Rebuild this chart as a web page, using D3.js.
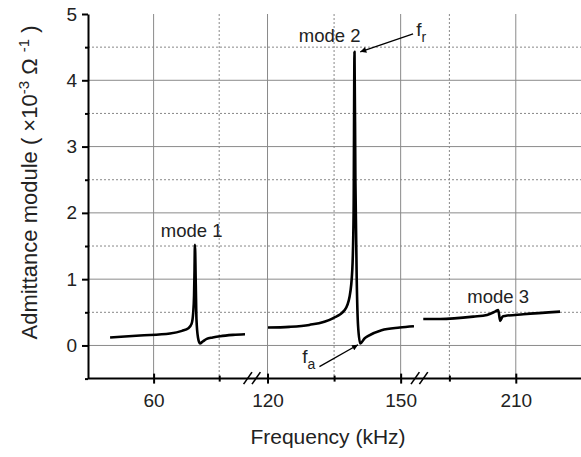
<!DOCTYPE html>
<html>
  <head>
    <meta charset="utf-8" />
    <title>Admittance module</title>
    <script src="https://d3js.org/d3.v7.min.js"></script>
    <style>
      body {
        margin: 0;
        background: #fff;
      }
      svg {
        font-family: Arial, "Liberation Sans", sans-serif;
      }
      .grid-major {
        stroke: #8a8a8a;
        stroke-width: 1;
      }
      .grid-minor {
        stroke: #888;
        stroke-width: 1;
        stroke-dasharray: 2, 2;
      }
      .axis path, .axis line {
        stroke: #000;
        stroke-width: 2;
      }
      .axis text {
        font-size: 19px;
        fill: #222;
      }
      .curve {
        fill: none;
        stroke: #000;
        stroke-width: 2.6;
        stroke-linejoin: round;
      }
    </style>
  </head>
  <body>

    <svg id="chart"></svg>

    <script>

      // mode 1 (kHz, x10^-3 S)
      var mode1Freq = [40.1, 53.8, 67.5, 73.0, 75.9, 77.4, 78.1, 78.5, 78.7, 78.9, 79.3, 79.6, 80.3, 81.2, 82.5, 84.3, 87.0, 90.4, 96.3, 101.8];
      var mode1Val  = [0.12, 0.15, 0.18, 0.22, 0.26, 0.33, 0.49, 0.75, 1.10, 1.52, 0.90, 0.40, 0.12, 0.03, 0.06, 0.10, 0.12, 0.14, 0.16, 0.17];

      // mode 2
      var mode2Freq = [120.1, 124.9, 129.4, 134.7, 137.4, 138.5, 139.1, 139.4, 139.6, 139.8, 140.1, 140.4, 140.9, 141.9, 142.6, 145.7, 149.8, 153.0];
      var mode2Val  = [0.27, 0.28, 0.31, 0.41, 0.535, 0.74, 1.14, 2.0, 4.43, 2.5, 1.0, 0.3, 0.03, 0.11, 0.14, 0.23, 0.27, 0.29];

      // mode 3
      var mode3Freq = [168.2, 175.8, 190.8, 197.0, 200.6, 202.1, 202.9, 204.0, 205.1, 213.4, 230.0];
      var mode3Val  = [0.40, 0.40, 0.435, 0.46, 0.51, 0.535, 0.37, 0.435, 0.445, 0.47, 0.51];

      var xMajorTicks = [60, 120, 150, 210];
      var xMinorTicks = [90, 135, 180];
      var yMajorTicks = [0, 1, 2, 3, 4, 5];
      var yMinorTicks = [-0.5, 0.5, 1.5, 2.5, 3.5, 4.5];
      var xBreaks = [105, 154];

      var labelText = ["mode 1", "mode 2", "mode 3"];
      var labelFreq = [77.4, 134.0, 202.0];
      var labelVal  = [1.63, 4.58, 0.64];

      var width = 581;
      var height = 457;

      var svg = d3.select("#chart")
        .attr("width", width)
        .attr("height", height);

      // broken x axis: three segments glued together
      var x = d3.scaleLinear()
        .domain([30, 105, 116.5, 154, 166, 240])
        .range([88, 252, 252, 418.4, 418.4, 582.2]);

      var y = d3.scaleLinear()
        .domain([-0.5, 5])
        .range([378.6, 14]);

      var xLeft = x.range()[0];
      var xRight = width;

      // grid
      var grid = svg.append("g");

      grid.selectAll(".hmin")
        .data(yMinorTicks.filter(function(d) { return d > -0.5; }))
        .enter().append("line")
        .attr("class", "grid-minor")
        .attr("x1", xLeft).attr("x2", xRight)
        .attr("y1", function(d) { return y(d); })
        .attr("y2", function(d) { return y(d); });

      grid.selectAll(".hmaj")
        .data(yMajorTicks.filter(function(d) { return d < 5; }))
        .enter().append("line")
        .attr("class", "grid-major")
        .attr("x1", xLeft).attr("x2", xRight)
        .attr("y1", function(d) { return y(d); })
        .attr("y2", function(d) { return y(d); });

      grid.selectAll(".vmin")
        .data(xMinorTicks)
        .enter().append("line")
        .attr("class", "grid-minor")
        .attr("x1", function(d) { return x(d); })
        .attr("x2", function(d) { return x(d); })
        .attr("y1", y(5)).attr("y2", y(-0.5));

      grid.selectAll(".vmaj")
        .data(xMajorTicks)
        .enter().append("line")
        .attr("class", "grid-major")
        .attr("x1", function(d) { return x(d); })
        .attr("x2", function(d) { return x(d); })
        .attr("y1", y(5)).attr("y2", y(-0.5));

      // curves
      var line = d3.line()
        .x(function(d) { return x(d[0]); })
        .y(function(d) { return y(d[1]); })
        .curve(d3.curveMonotoneX);

      [[mode1Freq, mode1Val], [mode2Freq, mode2Val], [mode3Freq, mode3Val]].forEach(function(m) {
        svg.append("path")
          .attr("class", "curve")
          .attr("d", line(d3.zip(m[0], m[1])));
      });

      // axes
      var xAxis = svg.append("g")
        .attr("class", "axis")
        .attr("transform", "translate(0," + y(-0.5) + ")")
        .call(d3.axisBottom(x).tickValues(xMajorTicks).tickSize(5).tickSizeOuter(0).tickPadding(10));
      xAxis.selectAll(".tick line").attr("y1", -5);
      xAxis.select(".domain").attr("d", "M" + xLeft + ",0H" + xRight);

      svg.append("g")
        .attr("class", "axis")
        .attr("transform", "translate(0," + y(-0.5) + ")")
        .call(d3.axisBottom(x).tickValues(xMinorTicks).tickSize(3).tickSizeOuter(0).tickFormat(""))
        .call(function(g) { g.select(".domain").remove(); g.selectAll(".tick line").attr("y1", -3).attr("stroke-width", 1.5); });

      svg.append("g")
        .attr("class", "axis")
        .attr("transform", "translate(" + xLeft + ",0)")
        .call(d3.axisLeft(y).tickValues(yMajorTicks).tickFormat(d3.format("d")).tickSize(6).tickSizeOuter(0).tickPadding(5));

      svg.append("g")
        .attr("class", "axis")
        .attr("transform", "translate(" + xLeft + ",0)")
        .call(d3.axisLeft(y).tickValues(yMinorTicks).tickSize(3).tickSizeOuter(0).tickFormat(""))
        .call(function(g) { g.select(".domain").remove(); g.selectAll(".tick line").attr("stroke-width", 1.5); });

      // break marks
      var breaks = svg.append("g");
      xBreaks.forEach(function(b) {
        var cx = x(b) + (b > 150 ? 1 : 0);
        [-4.2, 4.2].forEach(function(dx) {
          breaks.append("line")
            .attr("x1", cx + dx - 4.2).attr("y1", y(-0.5) + 5.5)
            .attr("x2", cx + dx + 4.2).attr("y2", y(-0.5) - 6.5)
            .attr("stroke", "#000")
            .attr("stroke-width", 1.6);
        });
      });

      // mode labels
      svg.selectAll(".mode-label")
        .data(labelText)
        .enter().append("text")
        .attr("class", "mode-label")
        .attr("x", function(d, i) { return x(labelFreq[i]); })
        .attr("y", function(d, i) { return y(labelVal[i]); })
        .attr("text-anchor", "middle")
        .attr("font-size", 18.5)
        .attr("fill", "#222")
        .text(function(d) { return d; });

      // arrows to fr and fa
      svg.append("defs").append("marker")
        .attr("id", "head")
        .attr("viewBox", "0 0 10 10")
        .attr("refX", 10).attr("refY", 5)
        .attr("markerWidth", 9).attr("markerHeight", 6)
        .attr("markerUnits", "userSpaceOnUse")
        .attr("orient", "auto")
        .append("path")
        .attr("d", "M0,0L10,5L0,10Z")
        .attr("fill", "#000");

      var arrowFrom = [[152.8, 4.70], [131.7, -0.32]];
      var arrowTo   = [[140.9, 4.43], [140.4, 0.01]];

      arrowFrom.forEach(function(a, i) {
        svg.append("line")
          .attr("x1", x(a[0])).attr("y1", y(a[1]))
          .attr("x2", x(arrowTo[i][0])).attr("y2", y(arrowTo[i][1]))
          .attr("stroke", "#000")
          .attr("stroke-width", 1.3)
          .attr("marker-end", "url(#head)");
      });

      var fLabels = [["r", 153.5, 4.67], ["a", 127.8, -0.27]];
      fLabels.forEach(function(f) {
        var t = svg.append("text")
          .attr("x", x(f[1]))
          .attr("y", y(f[2]))
          .attr("font-size", 19)
          .attr("fill", "#222");
        t.append("tspan").text("f");
        t.append("tspan").attr("dy", 6).attr("font-size", 14).text(f[0]);
      });

      // axis titles
      svg.append("text")
        .attr("x", 328)
        .attr("y", 444)
        .attr("text-anchor", "middle")
        .attr("font-size", 21)
        .attr("fill", "#222")
        .text("Frequency (kHz)");

      var yTitle = svg.append("text")
        .attr("transform", "translate(37,182.5) rotate(-90)")
        .attr("text-anchor", "middle")
        .attr("font-size", 22)
        .attr("fill", "#222");
      yTitle.append("tspan").text("Admittance module ( \u00d710");
      yTitle.append("tspan").attr("dy", -8).attr("font-size", 15).text("-3");
      yTitle.append("tspan").attr("dy", 8).text(" \u03a9 ");
      yTitle.append("tspan").attr("dy", -8).attr("font-size", 15).text("-1");
      yTitle.append("tspan").attr("dy", 8).text(" )");

    </script>
  </body>
</html>
